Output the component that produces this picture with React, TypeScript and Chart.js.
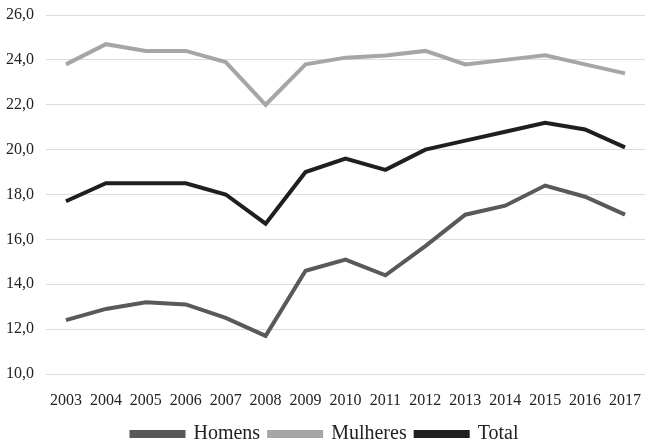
import React, { useEffect, useRef } from 'react';
import { Chart, registerables } from 'chart.js';

Chart.register(...registerables);

const years = ['2003', '2004', '2005', '2006', '2007', '2008', '2009', '2010', '2011', '2012', '2013', '2014', '2015', '2016', '2017'];
const homens = [12.4, 12.9, 13.2, 13.1, 12.5, 11.7, 14.6, 15.1, 14.4, 15.7, 17.1, 17.5, 18.4, 17.9, 17.1];
const mulheres = [23.8, 24.7, 24.4, 24.4, 23.9, 22.0, 23.8, 24.1, 24.2, 24.4, 23.8, 24.0, 24.2, 23.8, 23.4];
const total = [17.7, 18.5, 18.5, 18.5, 18.0, 16.7, 19.0, 19.6, 19.1, 20.0, 20.4, 20.8, 21.2, 20.9, 20.1];

const FONT = "'Liberation Serif', 'Times New Roman', serif";

const App: React.FC = () => {
    const chartRef = useRef<HTMLCanvasElement>(null);
    const chartInstance = useRef<Chart<'line', number[], string> | null>(null);

    useEffect(() => {
        document.body.style.margin = '0';
        Chart.defaults.font.family = FONT;
        if (chartInstance.current) {
            chartInstance.current.destroy();
        }
        const ctx = chartRef.current?.getContext('2d');
        if (!ctx) return;

        const series = (label: string, data: number[], color: string) => ({
            label,
            data,
            borderColor: color,
            backgroundColor: color,
            borderWidth: 4,
            pointRadius: 0,
            tension: 0,
        });

        chartInstance.current = new Chart(ctx, {
            type: 'line',
            data: {
                labels: years,
                datasets: [
                    series('Homens', homens, '#595959'),
                    series('Mulheres', mulheres, '#a6a6a6'),
                    series('Total', total, '#1f1f1f'),
                ],
            },
            options: {
                animation: false,
                responsive: true,
                maintainAspectRatio: false,
                layout: { padding: { top: 0, right: 0, left: 0, bottom: -14 } },
                scales: {
                    x: {
                        offset: true,
                        grid: { display: false },
                        border: { display: false },
                        ticks: {
                            autoSkip: false,
                            maxRotation: 0,
                            color: '#222',
                            font: { family: FONT, size: 16 },
                            padding: 9,
                        },
                        afterFit: (scale: any) => { scale.height = 41; },
                    },
                    y: {
                        min: 10,
                        max: 26,
                        ticks: {
                            stepSize: 2,
                            color: '#222',
                            font: { family: FONT, size: 16 },
                            padding: 12,
                            callback: (v: any) => Number(v).toFixed(1).replace('.', ','),
                        },
                        grid: { color: '#dcdcdc', lineWidth: 1, drawTicks: false },
                        border: { display: false },
                        afterFit: (scale: any) => {
                            scale.width = 46;
                            scale.paddingTop = 15;
                        },
                    },
                },
                plugins: {
                    title: { display: false },
                    tooltip: { enabled: false },
                    legend: {
                        position: 'bottom',
                        labels: {
                            boxWidth: 52,
                            boxHeight: 4,
                            color: '#222',
                            font: { family: FONT, size: 20 },
                            padding: 9,
                        },
                    },
                },
            },
        });

        return () => {
            if (chartInstance.current) {
                chartInstance.current.destroy();
                chartInstance.current = null;
            }
        };
    }, []);

    return (
        <div style={{ width: 650, height: 440, background: '#fff' }}>
            <canvas ref={chartRef} />
        </div>
    );
};

export default App;
